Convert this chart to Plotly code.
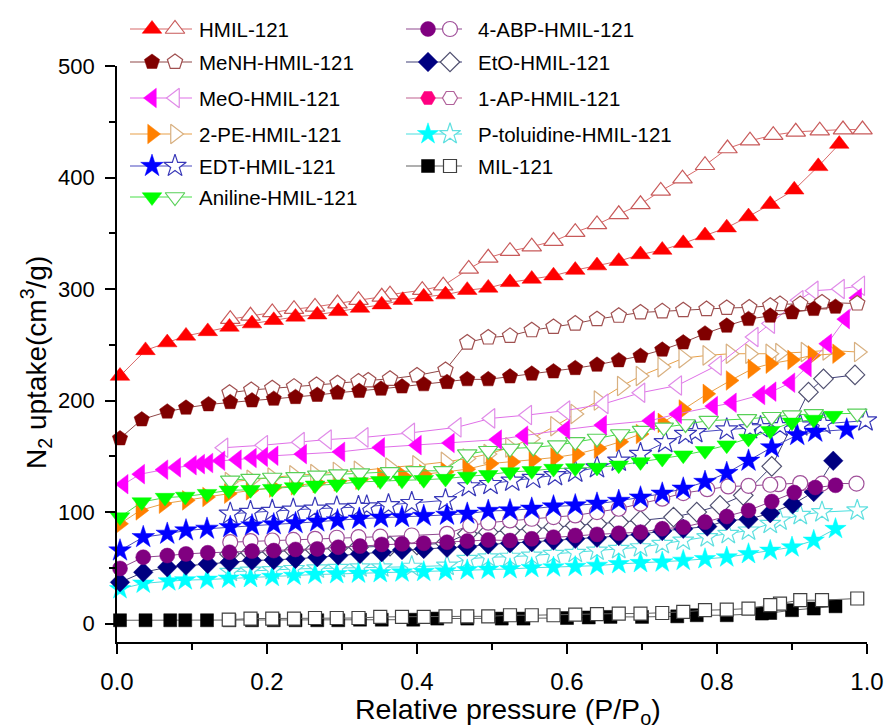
import plotly.graph_objects as go

# ---------------- data ----------------
hmil_ads_x = [0.004, 0.038, 0.067, 0.092, 0.121, 0.150, 0.180, 0.209, 0.238, 0.267, 0.295, 0.324, 0.353, 0.381, 0.409, 0.438, 0.467, 0.495, 0.524, 0.553, 0.582, 0.611, 0.640, 0.669, 0.698, 0.727, 0.755, 0.784, 0.813, 0.842, 0.871, 0.903, 0.935, 0.963]
hmil_ads_y = [222, 245, 252, 258, 262, 266, 269, 272, 275, 277, 280, 283, 286, 290, 293, 295, 299, 301, 306, 309, 312, 317, 321, 325, 331, 335, 341, 348, 355, 365, 376, 389, 410, 430]
hmil_des_x = [0.994, 0.968, 0.937, 0.905, 0.875, 0.844, 0.814, 0.784, 0.754, 0.725, 0.698, 0.669, 0.640, 0.611, 0.582, 0.553, 0.524, 0.495, 0.469, 0.435, 0.407, 0.364, 0.353, 0.322, 0.294, 0.264, 0.236, 0.207, 0.178, 0.151]
hmil_des_y = [443, 443, 442, 441, 438, 433, 426, 411, 399, 388, 376, 367, 358, 351, 343, 338, 334, 328, 318, 303, 299, 295, 293, 290, 287, 284, 282, 279, 276, 273]

menh_ads_x = [0.004, 0.033, 0.067, 0.092, 0.122, 0.151, 0.180, 0.209, 0.238, 0.267, 0.294, 0.323, 0.352, 0.380, 0.409, 0.440, 0.467, 0.495, 0.524, 0.553, 0.582, 0.611, 0.640, 0.669, 0.698, 0.727, 0.755, 0.784, 0.813, 0.842, 0.871, 0.900, 0.929, 0.958]
menh_ads_y = [166, 183, 190, 193.5, 196.5, 198.5, 200, 201.5, 203, 205, 207, 208.5, 210.5, 212.5, 214.5, 216.5, 219, 219, 221.5, 224, 226, 229, 232, 236, 240, 245.5, 252, 260, 267, 273, 276, 279, 282, 284]
menh_des_x = [0.987, 0.940, 0.911, 0.884, 0.871, 0.843, 0.813, 0.786, 0.755, 0.727, 0.698, 0.669, 0.640, 0.611, 0.582, 0.553, 0.524, 0.495, 0.467, 0.438, 0.400, 0.364, 0.335, 0.322, 0.294, 0.266, 0.236, 0.207, 0.179, 0.150]
menh_des_y = [287, 288, 286.5, 286.5, 285, 283.5, 283, 282, 281, 280, 279, 276, 273, 269, 266, 263, 258, 256.5, 252, 227.5, 222.5, 219.5, 218, 217, 215.5, 214, 212.5, 211, 209.5, 207]

meo_ads_x = [0.009, 0.031, 0.062, 0.079, 0.100, 0.111, 0.122, 0.138, 0.160, 0.180, 0.195, 0.209, 0.247, 0.298, 0.351, 0.400, 0.444, 0.507, 0.542, 0.598, 0.647, 0.711, 0.747, 0.795, 0.820, 0.858, 0.873, 0.898, 0.920, 0.947, 0.971, 0.987]
meo_ads_y = [125, 134, 138, 140, 142, 143, 144, 146, 147, 148.5, 149.5, 150.5, 152, 154, 158, 160, 162, 165, 168.5, 174, 178, 182, 188, 195, 198, 205, 208, 216, 230, 251, 273, 292]
meo_des_x = [0.991, 0.964, 0.929, 0.909, 0.871, 0.849, 0.800, 0.747, 0.698, 0.649, 0.598, 0.547, 0.498, 0.453, 0.391, 0.329, 0.280, 0.244, 0.195, 0.142]
meo_des_y = [303, 300, 298.5, 290, 269, 257, 231.5, 213.5, 207, 197, 191, 187, 184, 176, 171, 167, 165, 162.7, 160, 157.7]

pe_ads_x = [0.004, 0.031, 0.062, 0.093, 0.120, 0.149, 0.178, 0.209, 0.238, 0.267, 0.295, 0.324, 0.353, 0.381, 0.409, 0.438, 0.467, 0.498, 0.527, 0.555, 0.584, 0.613, 0.642, 0.671, 0.698, 0.727, 0.755, 0.787, 0.818, 0.847, 0.871, 0.900, 0.927, 0.960]
pe_ads_y = [89.5, 101.5, 107.5, 110.5, 113.5, 116.5, 119.5, 122, 124, 126, 127.5, 129, 131, 132.5, 134, 136, 138.5, 143.5, 145, 147, 149, 152, 157, 163, 170, 180, 192, 206, 218, 228.5, 233, 236.5, 240.5, 242]
pe_des_x = [0.989, 0.947, 0.918, 0.884, 0.871, 0.844, 0.818, 0.787, 0.755, 0.727, 0.698, 0.673, 0.642, 0.611, 0.584, 0.553, 0.524, 0.495, 0.467, 0.438, 0.400, 0.364, 0.322, 0.294, 0.264, 0.236, 0.207, 0.179, 0.150]
pe_des_y = [243.5, 245, 243.5, 242.5, 242, 242, 242, 240.5, 238, 230, 222, 213, 200, 188, 177, 166, 158, 152, 148, 145, 142, 140, 137, 136, 134, 133, 131, 129, 127]

edt_ads_x = [0.004, 0.035, 0.067, 0.092, 0.120, 0.151, 0.180, 0.209, 0.238, 0.267, 0.294, 0.323, 0.352, 0.380, 0.409, 0.440, 0.467, 0.495, 0.524, 0.553, 0.582, 0.611, 0.640, 0.669, 0.698, 0.727, 0.755, 0.784, 0.813, 0.842, 0.873, 0.907, 0.931, 0.973]
edt_ads_y = [65.5, 77.5, 80.5, 83.5, 85, 86.5, 88, 89, 90, 91.5, 92.5, 94, 95, 95.5, 96.5, 97.5, 98.5, 101, 101.5, 103, 105, 106, 107.5, 110, 113, 116.5, 121, 127, 135, 146, 158, 169, 172, 174]
edt_des_x = [0.998, 0.942, 0.911, 0.884, 0.858, 0.844, 0.813, 0.771, 0.758, 0.731, 0.698, 0.669, 0.640, 0.611, 0.584, 0.555, 0.527, 0.498, 0.469, 0.438, 0.393, 0.362, 0.333, 0.322, 0.293, 0.264, 0.235, 0.207, 0.178, 0.151]
edt_des_y = [182, 179, 177.5, 177, 176, 175, 174, 171.5, 170, 162.5, 152, 146, 140, 136, 133, 130.5, 128, 125, 123, 110.5, 108, 106, 105, 104.5, 104, 103, 102, 101, 100, 98.5]

ani_ads_x = [0.004, 0.033, 0.064, 0.091, 0.120, 0.149, 0.178, 0.207, 0.236, 0.264, 0.293, 0.322, 0.351, 0.380, 0.409, 0.438, 0.467, 0.495, 0.524, 0.553, 0.582, 0.611, 0.640, 0.669, 0.698, 0.727, 0.755, 0.784, 0.813, 0.842, 0.871, 0.900, 0.929, 0.955]
ani_ads_y = [95.5, 109, 113, 114, 116.5, 119.5, 120, 121, 122.5, 124, 125, 127, 128, 128.5, 129, 130, 132, 133.5, 136, 137, 139, 139.5, 140, 142, 145, 148, 151, 155, 160, 166, 173, 180.5, 183, 186.5]
ani_des_x = [0.987, 0.929, 0.900, 0.873, 0.840, 0.789, 0.758, 0.729, 0.700, 0.671, 0.640, 0.611, 0.587, 0.555, 0.524, 0.495, 0.467, 0.435, 0.398, 0.364, 0.324, 0.295, 0.267, 0.238, 0.207, 0.178, 0.151]
ani_des_y = [188.5, 188, 187, 185.5, 183.5, 182, 179, 176, 173, 170, 166, 163, 160, 158, 157, 155, 152, 137, 137, 136, 135, 134, 133, 131.5, 131, 130, 128.5]

abp_ads_x = [0.004, 0.035, 0.067, 0.092, 0.121, 0.150, 0.180, 0.209, 0.238, 0.267, 0.295, 0.324, 0.353, 0.380, 0.409, 0.440, 0.467, 0.495, 0.524, 0.553, 0.582, 0.611, 0.640, 0.669, 0.698, 0.727, 0.755, 0.784, 0.813, 0.842, 0.873, 0.903, 0.931, 0.958]
abp_ads_y = [49.5, 59.5, 61, 62.5, 63.5, 64, 65, 65.5, 66.5, 67, 68.5, 69.5, 71, 71.5, 72, 73, 74, 75, 74.5, 76, 77.5, 79, 80, 81, 82, 85, 86.5, 91, 96, 101.5, 109.5, 117.5, 122, 124]
abp_des_x = [0.986, 0.940, 0.911, 0.882, 0.871, 0.842, 0.815, 0.787, 0.755, 0.727, 0.698, 0.669, 0.640, 0.611, 0.582, 0.553, 0.524, 0.495, 0.471, 0.440, 0.393, 0.351, 0.322, 0.293, 0.264, 0.235, 0.207, 0.178, 0.151]
abp_des_y = [125.5, 125.5, 126, 125, 124.5, 123.5, 123, 120.5, 117, 112, 107.5, 103, 100, 97, 95.5, 94, 92.5, 90.5, 88, 80.5, 79, 78, 77.5, 77, 76, 75, 74.5, 74, 73]

eto_ads_x = [0.004, 0.035, 0.067, 0.092, 0.121, 0.150, 0.180, 0.209, 0.238, 0.267, 0.295, 0.324, 0.353, 0.380, 0.409, 0.440, 0.467, 0.495, 0.524, 0.553, 0.582, 0.611, 0.640, 0.669, 0.698, 0.727, 0.755, 0.787, 0.813, 0.842, 0.871, 0.901, 0.929, 0.955]
eto_ads_y = [37, 46, 50.5, 52, 53.5, 55, 56.5, 57, 58, 59.5, 61, 62.5, 64, 66, 67, 68, 69, 71, 72, 73, 74.5, 76, 77, 78.5, 80, 83, 85, 87, 92.5, 93.5, 99, 107, 118, 146]
eto_des_x = [0.984, 0.942, 0.922, 0.873, 0.835, 0.804, 0.773, 0.742, 0.698, 0.669, 0.640, 0.611, 0.582, 0.553, 0.524, 0.495, 0.467, 0.438, 0.400, 0.364, 0.322, 0.294, 0.264, 0.236, 0.207, 0.178, 0.150]
eto_des_y = [223, 219.5, 207.5, 141, 115, 106, 100, 95.5, 92.5, 91, 89.5, 88, 86.5, 85, 83.5, 82, 80.5, 72, 70.5, 69.5, 68.5, 67.5, 66.5, 65.5, 64.5, 63.5, 62.5]

ptol_ads_x = [0.004, 0.035, 0.069, 0.091, 0.120, 0.149, 0.178, 0.207, 0.236, 0.264, 0.293, 0.322, 0.351, 0.380, 0.409, 0.438, 0.467, 0.495, 0.524, 0.553, 0.582, 0.611, 0.640, 0.669, 0.698, 0.727, 0.755, 0.784, 0.813, 0.842, 0.871, 0.900, 0.929, 0.958]
ptol_ads_y = [31, 36, 38, 39, 39.5, 40.5, 41, 42, 43, 44, 44.5, 45, 45.5, 46, 46.5, 47, 48, 48.5, 49, 50, 50.5, 51, 52, 53.5, 54.5, 55, 56.5, 58, 59.5, 62.5, 65.5, 68.5, 74.5, 85]
ptol_des_x = [0.987, 0.940, 0.911, 0.884, 0.871, 0.842, 0.815, 0.787, 0.755, 0.727, 0.698, 0.669, 0.640, 0.611, 0.582, 0.553, 0.524, 0.495, 0.467, 0.440, 0.393, 0.353, 0.324, 0.295, 0.267, 0.236, 0.207, 0.178, 0.151]
ptol_des_y = [101.5, 100, 97.5, 92.5, 89.5, 83.5, 80.5, 77.5, 74.5, 71.5, 68.5, 67, 65.5, 63.5, 62.5, 61, 60, 59.5, 58, 52, 51, 50.5, 50.5, 50, 49.5, 49, 48, 47.5, 46.5]

mil_ads_x = [0.004, 0.038, 0.071, 0.091, 0.120, 0.150, 0.180, 0.209, 0.238, 0.267, 0.295, 0.324, 0.353, 0.395, 0.427, 0.467, 0.513, 0.542, 0.600, 0.629, 0.658, 0.700, 0.747, 0.773, 0.813, 0.860, 0.871, 0.900, 0.929, 0.958]
mil_ads_y = [3, 3, 3, 3, 3, 3, 3, 3, 3, 3, 3, 3.5, 3.5, 3.5, 4.5, 4.5, 4.5, 4.5, 5, 5.5, 6, 6, 6.5, 7.5, 7.5, 9, 9.5, 12, 13.5, 15.5]
mil_des_x = [0.987, 0.940, 0.911, 0.884, 0.871, 0.842, 0.813, 0.784, 0.755, 0.727, 0.698, 0.669, 0.640, 0.611, 0.582, 0.553, 0.524, 0.495, 0.467, 0.438, 0.409, 0.380, 0.351, 0.322, 0.293, 0.264, 0.236, 0.207, 0.178, 0.149]
mil_des_y = [22.5, 21, 21, 18, 16.5, 13.5, 12.5, 12, 10.5, 9.5, 9, 9, 8.5, 8, 7.5, 7.5, 7.5, 6.5, 6.5, 6.5, 6, 6, 6, 5, 5, 5, 4.5, 4.5, 4.5, 3.5]

# legend labels
legend_col1 = ["HMIL-121", "MeNH-HMIL-121", "MeO-HMIL-121", "2-PE-HMIL-121", "EDT-HMIL-121", "Aniline-HMIL-121"]
legend_col2 = ["4-ABP-HMIL-121", "EtO-HMIL-121", "1-AP-HMIL-121", "P-toluidine-HMIL-121", "MIL-121"]

x_ticks = [0.0, 0.2, 0.4, 0.6, 0.8, 1.0]
x_ticktext = ["0.0", "0.2", "0.4", "0.6", "0.8", "1.0"]
y_ticks = [0, 100, 200, 300, 400, 500]

# ---------------- styles ----------------
# name: (fill colour, symbol, open outline colour, line colour, size)
styles = {
    "HMIL-121": ("#FF0000", "triangle-up", "#C85A5A", "#D86A6A", 17),
    "MeNH-HMIL-121": ("#800000", "pentagon", "#A05050", "#904848", 16),
    "MeO-HMIL-121": ("#FF00FF", "triangle-left", "#E08CE8", "#E070E8", 17),
    "2-PE-HMIL-121": ("#FF8000", "triangle-right", "#D8B080", "#E8A048", 17),
    "EDT-HMIL-121": ("#0000FF", "star", "#3838B8", "#4848C0", 17),
    "Aniline-HMIL-121": ("#00FF00", "triangle-down", "#58D058", "#48E048", 17),
    "4-ABP-HMIL-121": ("#800080", "circle", "#A0509A", "#904890", 15),
    "EtO-HMIL-121": ("#000080", "diamond", "#505070", "#404078", 15),
    "1-AP-HMIL-121": ("#FF0080", "hexagon2", "#B0609A", "#C06090", 15),
    "P-toluidine-HMIL-121": ("#00FFFF", "star", "#60E0E0", "#48E0E0", 16),
    "MIL-121": ("#000000", "square", "#404040", "#606060", 13),
}

series = [
    ("MIL-121", mil_ads_x, mil_ads_y, mil_des_x, mil_des_y, True),
    ("P-toluidine-HMIL-121", ptol_ads_x, ptol_ads_y, ptol_des_x, ptol_des_y, False),
    ("EtO-HMIL-121", eto_ads_x, eto_ads_y, eto_des_x, eto_des_y, False),
    ("4-ABP-HMIL-121", abp_ads_x, abp_ads_y, abp_des_x, abp_des_y, False),
    ("EDT-HMIL-121", edt_ads_x, edt_ads_y, edt_des_x, edt_des_y, False),
    ("2-PE-HMIL-121", pe_ads_x, pe_ads_y, pe_des_x, pe_des_y, False),
    ("Aniline-HMIL-121", ani_ads_x, ani_ads_y, ani_des_x, ani_des_y, False),
    ("MeO-HMIL-121", meo_ads_x, meo_ads_y, meo_des_x, meo_des_y, False),
    ("MeNH-HMIL-121", menh_ads_x, menh_ads_y, menh_des_x, menh_des_y, False),
    ("HMIL-121", hmil_ads_x, hmil_ads_y, hmil_des_x, hmil_des_y, False),
]

fig = go.Figure()


def add_open(name, xs, ys):
    fc, sym, oc, lc, sz = styles[name]
    fig.add_trace(go.Scatter(
        x=xs, y=ys, mode="lines+markers", showlegend=False, cliponaxis=False,
        line=dict(color=lc, width=1),
        marker=dict(symbol=sym, size=sz, color="white", line=dict(color=oc, width=1.2)),
    ))


def add_filled(name, xs, ys):
    fc, sym, oc, lc, sz = styles[name]
    fig.add_trace(go.Scatter(
        x=xs, y=ys, mode="lines+markers", showlegend=False, cliponaxis=False,
        line=dict(color=lc, width=1),
        marker=dict(symbol=sym, size=sz, color=fc, line=dict(color=fc, width=0.5)),
    ))


for name, ax, ay, dx, dy, open_on_top in series:
    if open_on_top:
        add_filled(name, ax, ay)
        add_open(name, dx, dy)
    else:
        add_open(name, dx, dy)
        add_filled(name, ax, ay)

# ---------------- layout geometry (pixels in the 893x728 page) ----------------
W, H = 893, 728
PL, PR, PT, PB = 117, 867, 66, 642   # plot area of the data axes
# paper spans x: PL..PR, y: 0..PB (top margin 0); data y-axis uses the lower part


def px2paper_x(px):
    return (px - PL) / (PR - PL)


def px2paper_y(py):
    return (PB - py) / PB


# ---------------- custom legend in a pixel-space overlay subplot ----------------
rows = [29, 62, 98, 134, 166, 197]
cols = [
    dict(names=legend_col1, line=(130, 192), filled=152, open=175, text=197),
    dict(names=legend_col2, line=(406, 462), filled=428, open=450, text=476),
]
annotations = []
for col in cols:
    for i, name in enumerate(col["names"]):
        fc, sym, oc, lc, sz = styles[name]
        yy = rows[i]
        fig.add_trace(go.Scatter(
            x=[col["line"][0], col["line"][1]], y=[yy, yy], xaxis="x2", yaxis="y2", mode="lines",
            showlegend=False, hoverinfo="skip", line=dict(color=lc, width=1.2)))
        fig.add_trace(go.Scatter(
            x=[col["filled"]], y=[yy], xaxis="x2", yaxis="y2", mode="markers",
            showlegend=False, cliponaxis=False, hoverinfo="skip",
            marker=dict(symbol=sym, size=sz, color=fc, line=dict(color=fc, width=0.5))))
        fig.add_trace(go.Scatter(
            x=[col["open"]], y=[yy], xaxis="x2", yaxis="y2", mode="markers",
            showlegend=False, cliponaxis=False, hoverinfo="skip",
            marker=dict(symbol=sym, size=sz, color="white", line=dict(color=oc, width=1.2))))
        annotations.append(dict(x=col["text"], y=yy, xref="x2", yref="y2", text=name,
                                showarrow=False, xanchor="left", yanchor="middle",
                                font=dict(size=20.5, color="black")))

# axis titles
annotations.append(dict(x=px2paper_x(36), y=px2paper_y(363), xref="paper", yref="paper",
                        text="N<sub>2</sub> uptake(cm<sup>3</sup>/g)", textangle=-90,
                        showarrow=False, xanchor="center", yanchor="middle",
                        font=dict(size=28, color="black")))
annotations.append(dict(x=px2paper_x(508), y=px2paper_y(711), xref="paper", yref="paper",
                        text="Relative pressure (P/P<sub>o</sub>)",
                        showarrow=False, xanchor="center", yanchor="middle",
                        font=dict(size=28.5, color="black")))

fig.update_layout(
    width=W, height=H,
    margin=dict(l=PL, r=W - PR, t=0, b=H - PB, autoexpand=False),
    paper_bgcolor="white", plot_bgcolor="rgba(0,0,0,0)",
    font=dict(family="Liberation Sans, Arial, sans-serif", color="black"),
    showlegend=False,
    annotations=annotations,
    xaxis=dict(range=[0, 1], tickvals=x_ticks, ticktext=x_ticktext, anchor="y",
               showgrid=False, zeroline=False, showline=True, linecolor="black", linewidth=1.8,
               ticks="outside", ticklen=10, tickwidth=1.8, tickcolor="black",
               tickfont=dict(size=24), ticklabelstandoff=7,
               minor=dict(dtick=0.1, ticks="outside", ticklen=6, tickwidth=1.5, tickcolor="black", showgrid=False)),
    yaxis=dict(range=[-16.5, 500], tickvals=y_ticks, anchor="x",
               domain=[0, (PB - PT) / PB],
               showgrid=False, zeroline=False, showline=True, linecolor="black", linewidth=1.8,
               ticks="outside", ticklen=10, tickwidth=1.8, tickcolor="black",
               tickfont=dict(size=22), ticklabelstandoff=6,
               minor=dict(dtick=50, ticks="outside", ticklen=6, tickwidth=1.5, tickcolor="black", showgrid=False)),
    xaxis2=dict(domain=[0, 1], anchor="y2", range=[PL, PR], visible=False, fixedrange=True),
    yaxis2=dict(domain=[0, 1], anchor="x2", range=[PB, 0], visible=False, fixedrange=True),
)

fig.write_html("out.html", config={"displayModeBar": False},
               post_script="document.body.style.margin='0px';document.body.style.overflow='hidden';")
